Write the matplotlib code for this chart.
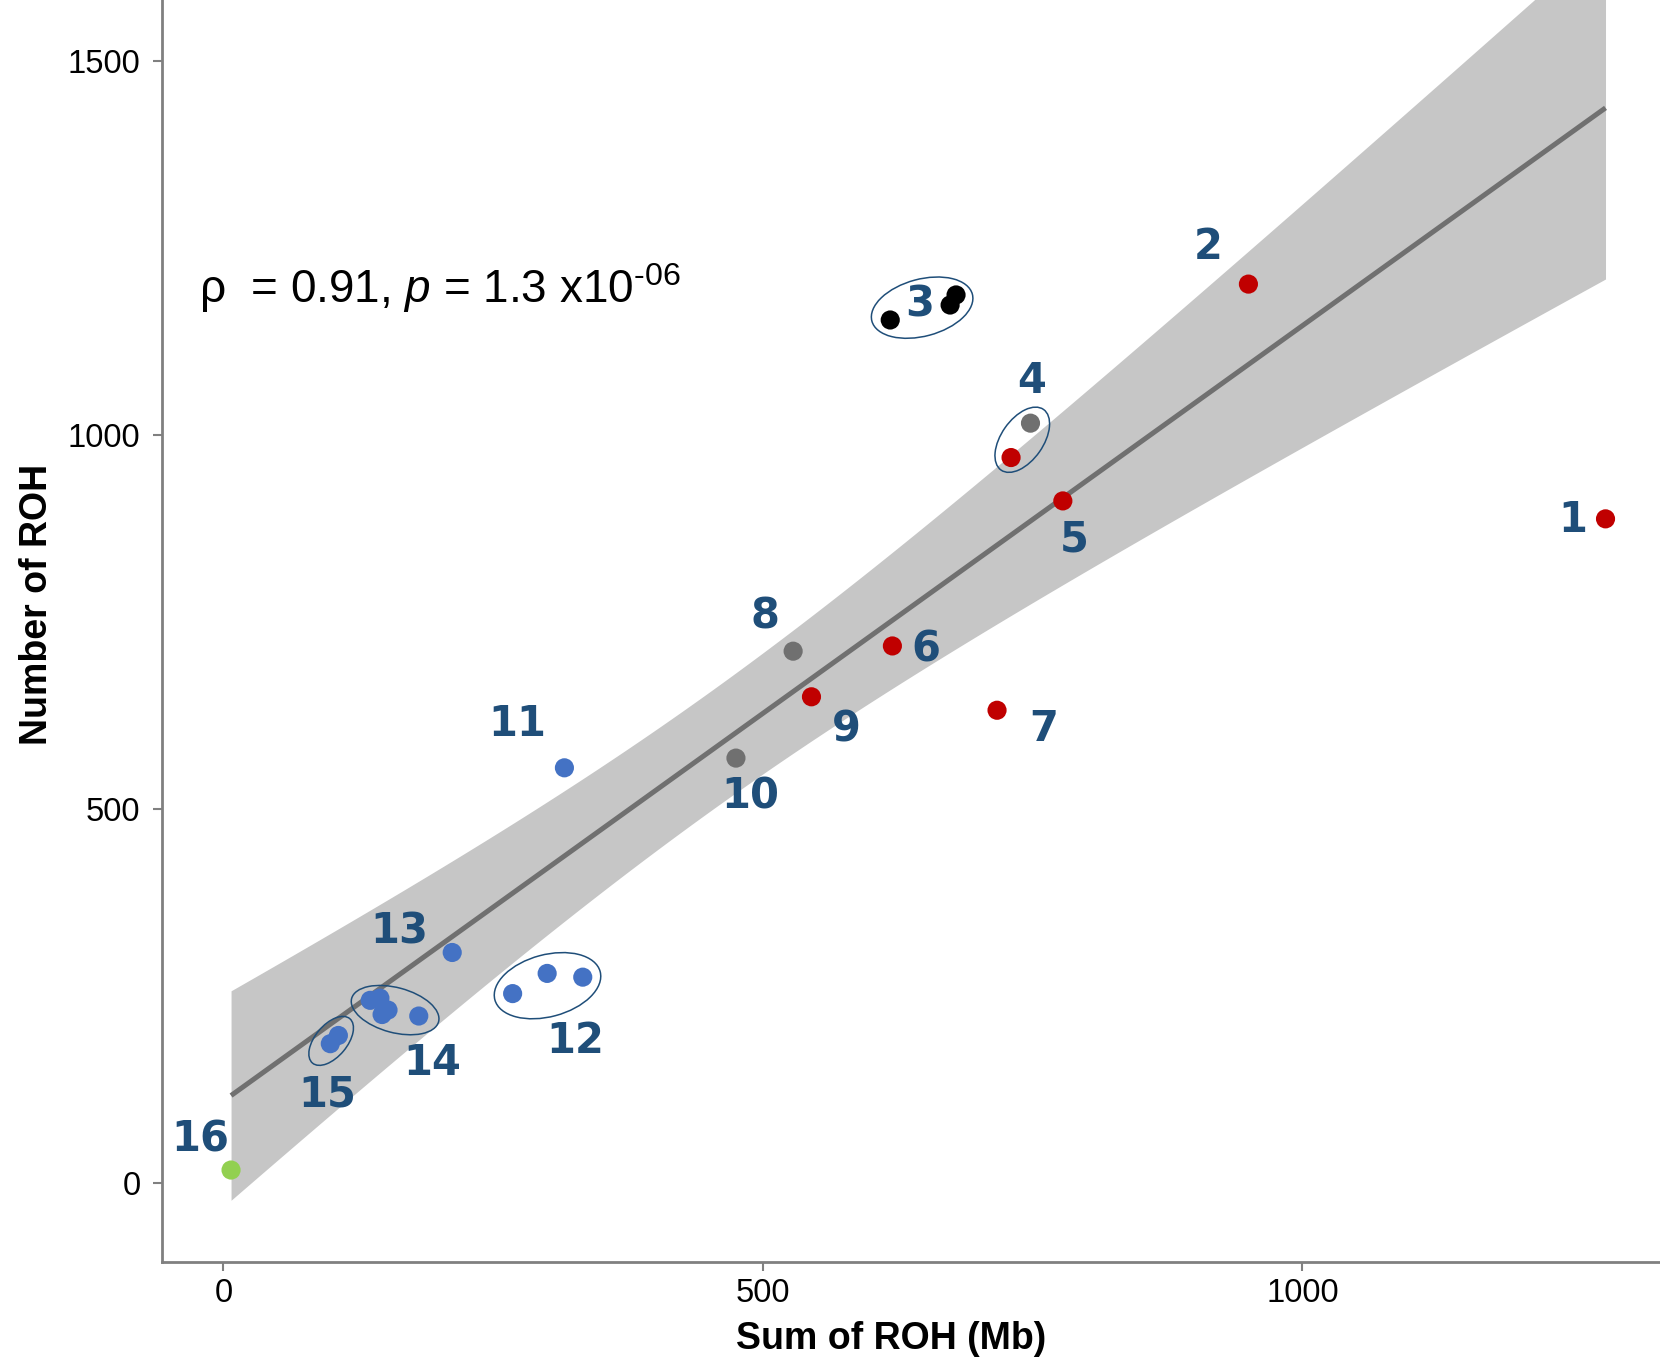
import numpy as np
import matplotlib.pyplot as plt
from matplotlib.patches import Ellipse
from matplotlib.transforms import ScaledTranslation

plt.rcParams['font.family'] = ['Liberation Sans', 'DejaVu Sans']
plt.rcParams['mathtext.fontset'] = 'custom'
plt.rcParams['mathtext.rm'] = 'Liberation Sans'
plt.rcParams['mathtext.it'] = 'Liberation Sans:italic'

# sum of ROH (Mb) and number of ROH for each sample
sum_roh = [1281, 950, 618, 673.5, 679, 748, 730, 778, 620, 717, 528, 545, 475,
           316, 268, 300, 333, 212, 136, 145, 152.5, 147, 181, 99, 106.5, 7]
n_roh = [888, 1202, 1154, 1174, 1187.5, 1016, 970, 912, 718, 632, 711, 650, 568,
         555, 253, 280, 275, 308, 244, 247, 231, 225, 223, 186, 197, 17]
group = [1, 2, 3, 3, 3, 4, 4, 5, 6, 7, 8, 9, 10,
         11, 12, 12, 12, 13, 14, 14, 14, 14, 14, 15, 15, 16]
kind = ['red', 'red', 'black', 'black', 'black', 'grey', 'red', 'red', 'red', 'red', 'grey', 'red', 'grey',
        'blue', 'blue', 'blue', 'blue', 'blue', 'blue', 'blue', 'blue', 'blue', 'blue', 'blue', 'blue', 'green']
rho_txt = '0.91'
p_txt = '1.3'
p_exp = '-06'

colours = {'red': '#C00000', 'grey': '#707070', 'black': '#000000',
           'blue': '#4472C4', 'green': '#92D050'}
lab_col = '#1F4E79'

x = np.array(sum_roh, dtype=float)
y = np.array(n_roh, dtype=float)
g = np.array(group)

# linear fit with 95% confidence band
n = len(x)
b1, b0 = np.polyfit(x, y, 1)
resid = y - (b0 + b1 * x)
s = np.sqrt(np.sum(resid ** 2) / (n - 2))
sxx = np.sum((x - x.mean()) ** 2)
t975 = 2.0639  # df = 24
xx = np.linspace(x.min(), x.max(), 300)
yy = b0 + b1 * xx
se = s * np.sqrt(1.0 / n + (xx - x.mean()) ** 2 / sxx)

fig = plt.figure(figsize=(16.6, 13.61), dpi=100)
ax = fig.add_axes([162 / 1660, 99 / 1361, 1498 / 1660, 1262 / 1361])

ax.fill_between(xx, yy - t975 * se, yy + t975 * se, color='#C6C6C6', lw=0, zorder=1)
ax.plot(xx, yy, color='#707070', lw=3.6, zorder=2, solid_capstyle='butt')

for k, c in colours.items():
    m = np.array([kk == k for kk in kind])
    ax.scatter(x[m], y[m], s=190, color=c, edgecolors='none', zorder=3)

ax.set_xlim(-57, 1331.5)
ax.set_ylim(-106, 1582)

# group number labels, offset in pixels from the group centre
lab_off = {1: (-33, -1), 2: (-40, 38), 3: (-12, 3), 4: (11, 60), 5: (11, -38),
           6: (33, -3), 7: (47, -18), 8: (-28, 35), 9: (35, -32), 10: (14, -38),
           11: (-47, 44), 12: (28, -59), 13: (-53, 21), 14: (44, -55),
           15: (-7, -54), 16: (-31, 31)}
for gid, (dx, dy) in lab_off.items():
    cx, cy = x[g == gid].mean(), y[g == gid].mean()
    ax.annotate(str(gid), (cx, cy), xytext=(dx, dy + 4), textcoords='offset pixels',
                ha='center', va='center_baseline', fontsize=30, fontweight='bold',
                color=lab_col, family='DejaVu Sans', zorder=5)

# rings around grouped samples: dx, dy, width, height (px), angle
rings = {3: (-10, -1, 104, 57, 15), 4: (1.5, 0.6, 74, 42, 55),
         12: (0, -4.3, 109, 62, 15), 14: (7.3, -2.3, 90, 45, -15),
         15: (-3.2, -1.3, 58, 32, 50)}
for gid, (dx, dy, w, h, a) in rings.items():
    cx, cy = x[g == gid].mean(), y[g == gid].mean()
    tr = fig.dpi_scale_trans + ScaledTranslation(cx, cy, ax.transData)
    ax.add_patch(Ellipse((dx / 100, dy / 100), w / 100, h / 100, angle=a,
                         transform=tr, fill=False, ec=lab_col, lw=1.1, zorder=4))

ax.text(0.0247, 0.760,
        'ρ  = ' + rho_txt + ', $\\it{p}$ = ' + p_txt + ' x10$^{\\text{' + p_exp + '}}$',
        transform=ax.transAxes, ha='left', va='baseline', fontsize=33)

for sp in ['top', 'right']:
    ax.spines[sp].set_visible(False)
for sp in ['left', 'bottom']:
    ax.spines[sp].set_color('#808080')
    ax.spines[sp].set_linewidth(2.0)

ax.set_xticks([0, 500, 1000])
ax.set_yticks([0, 500, 1000, 1500])
ax.tick_params(axis='both', colors='#808080', labelcolor='black', width=1.5,
               length=6.5, labelsize=23.5)
ax.tick_params(axis='y', pad=9)
ax.tick_params(axis='x', pad=5)

ax.set_xlabel('Sum of ROH (Mb)', fontsize=27, fontweight='bold', va='center')
ax.set_ylabel('Number of ROH', fontsize=27, fontweight='bold', va='center')
ax.xaxis.set_label_coords(0.487, -0.061)
ax.yaxis.set_label_coords(-0.0834, 0.521)

fig.savefig('out.png', dpi=100)
